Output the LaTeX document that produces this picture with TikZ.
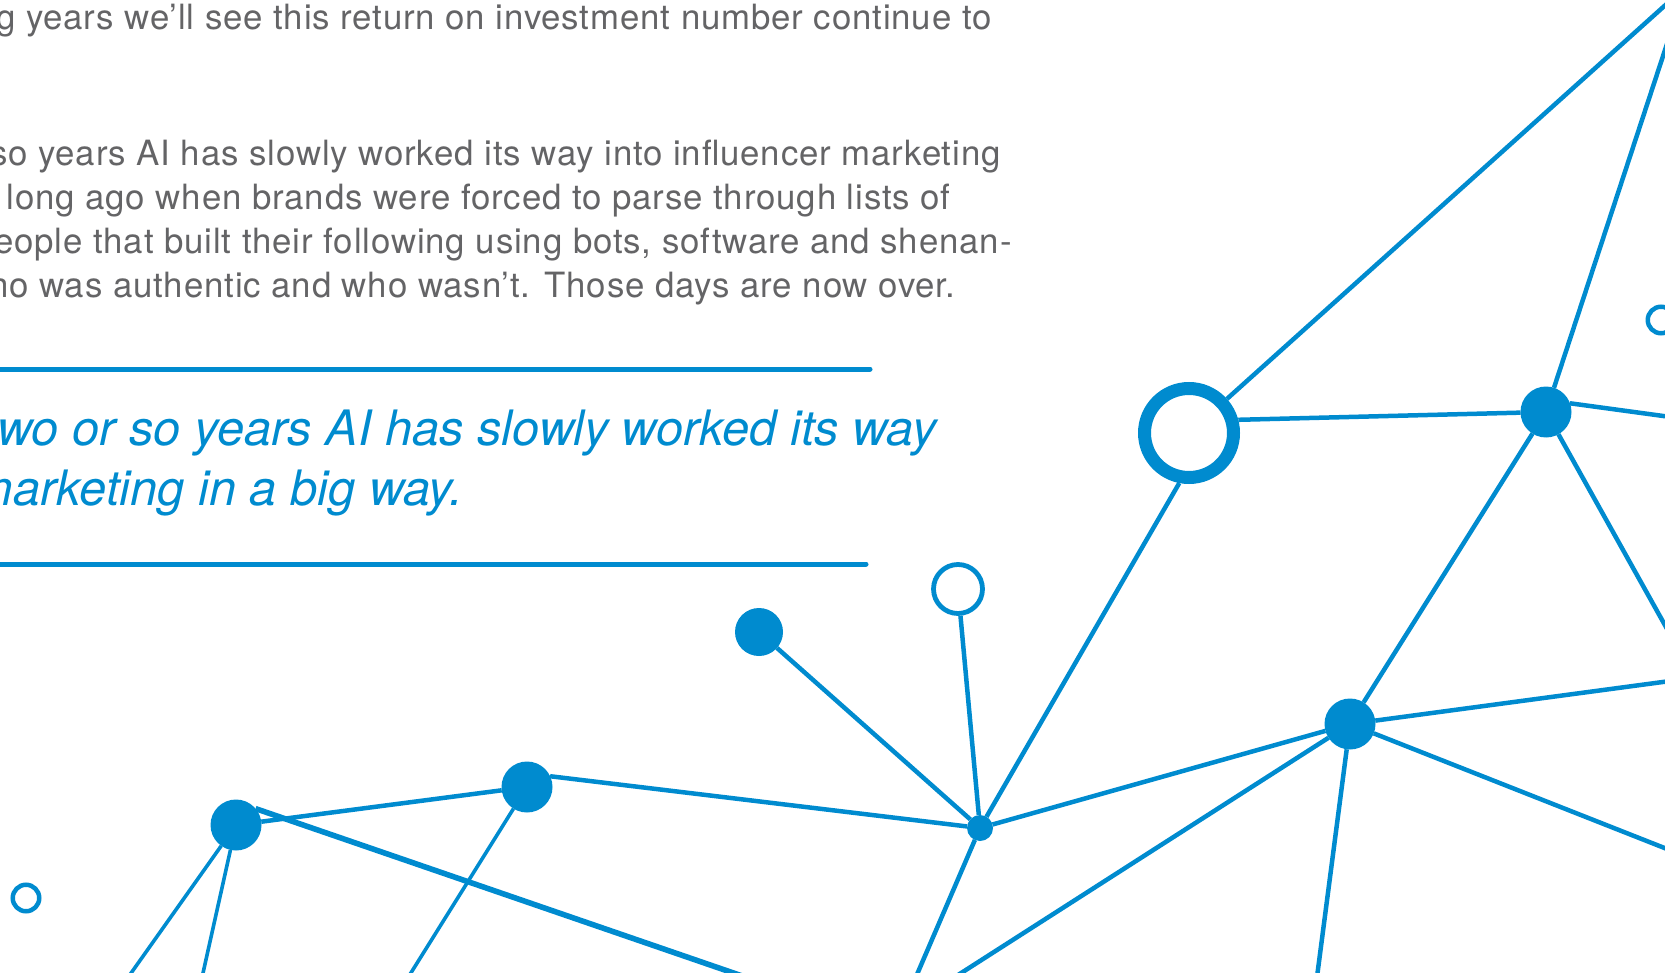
\documentclass[tikz,border=0pt]{standalone}
\usepackage{fontspec}
\setmainfont{TeX Gyre Heros}
\newfontfamily\bodyfont{TeX Gyre Heros}[LetterSpace=2.5]
\definecolor{netblue}{RGB}{0,139,207}
\definecolor{textgray}{RGB}{100,100,102}

\begin{document}
\begin{tikzpicture}[x=0.5pt,y=-0.5pt,
  link/.style={draw=netblue,line width=2.25pt},
  thin link/.style={draw=netblue,line width=1.8pt},
  thick link/.style={draw=netblue,line width=2.8pt},
  rule/.style={draw=netblue,line width=2.5pt,line cap=round},
  hub node/.style={circle,fill=netblue,inner sep=0pt,outer sep=0pt,minimum size=25.5pt},
  small hub/.style={circle,fill=netblue,inner sep=0pt,outer sep=0pt,minimum size=13pt},
  ring node/.style={circle,draw=netblue,fill=white,inner sep=0pt,minimum size=#1},
  body text/.style={anchor=base east,inner sep=0pt,text=textgray,
    font=\bodyfont\fontsize{17.4}{21}\selectfont},
  quote text/.style={anchor=base east,inner sep=0pt,text=netblue,
    font=\itshape\fontsize{24.4}{29}\selectfont}]

  \useasboundingbox (0,0) rectangle (1665,973);
  \clip (0,0) rectangle (1665,973);

  \node[body text] (par1) at (992,30) {g years we’ll see this return on investment number continue to};
  \node[body text] (par2) at (1001,166) {so years AI has slowly worked its way into influencer marketing};
  \node[body text] (par3) at (951,210) {long ago when brands were forced to parse through lists of};
  \node[body text] (par4) at (1012,254) {eople that built their following using bots, software and shenan-};
  \node[body text] (par5) at (956,298) {ho was authentic and who wasn’t. Those days are now over.};

  \draw[rule] (-10,369) -- (870,369);
  \node[quote text] (quote1) at (937,445) {wo or so years AI has slowly worked its way};
  \node[quote text] (quote2) at (463,505) {marketing in a big way.};
  \draw[rule] (-10,564) -- (866,564);

  \node[ring node=44.5pt,line width=6.5pt] (ring) at (1189,433) {};
  \node[hub node] (A) at (1546,412) {};
  \node[hub node] (B) at (1350,724) {};
  \node[small hub] (C) at (980,828) {};
  \node[ring node=24.5pt,line width=2.4pt] (D) at (958,589) {};
  \node[hub node,minimum size=24pt] (E) at (759,632) {};
  \node[hub node] (F) at (527,787) {};
  \node[hub node] (G) at (236,825) {};
  \node[ring node=13.25pt,line width=2.25pt] (H) at (26,898) {};
  \node[ring node=13.25pt,line width=2.25pt] (I) at (1661,320) {};

  \coordinate (ne1) at (1700,-26);
  \coordinate (ne2) at (1688,-20);
  \coordinate (e1) at (1700,421);
  \coordinate (e2) at (1700,688);
  \coordinate (e3) at (1700,677);
  \coordinate (e4) at (1700,862);
  \coordinate (s1) at (1314,1000);
  \coordinate (s2) at (919,1000);
  \coordinate (s3) at (906,1000);
  \coordinate (s4) at (394,1000);
  \coordinate (s5) at (812,1000);
  \coordinate (s6) at (112,1000);
  \coordinate (s7) at (197,1000);

  \path
  (ring) edge[link] (ne1)
  (ring.15) edge[link] (A)
  (ring.-101) edge[link] (C)
  (A) edge[link] (ne2)
  (A.20) edge[link] (e1)
  (A) edge[link] (e2)
  (A) edge[link] (B)
  (B) edge[link] (e3)
  (B) edge[link] (e4)
  (B) edge[link] (s1)
  (B) edge[link] (s2)
  (B) edge[link] (C)
  (C) edge[link] (D)
  (C) edge[link] (E)
  (C) edge[link] (s3)
  (F.25) edge[link] (C)
  (F) edge[thin link] (s4)
  (G) edge[link] (F)
  (G.40) edge[thick link] (s5)
  (G) edge[thin link] (s6)
  (G) edge[thin link] (s7)
  ;

\end{tikzpicture}
\end{document}
